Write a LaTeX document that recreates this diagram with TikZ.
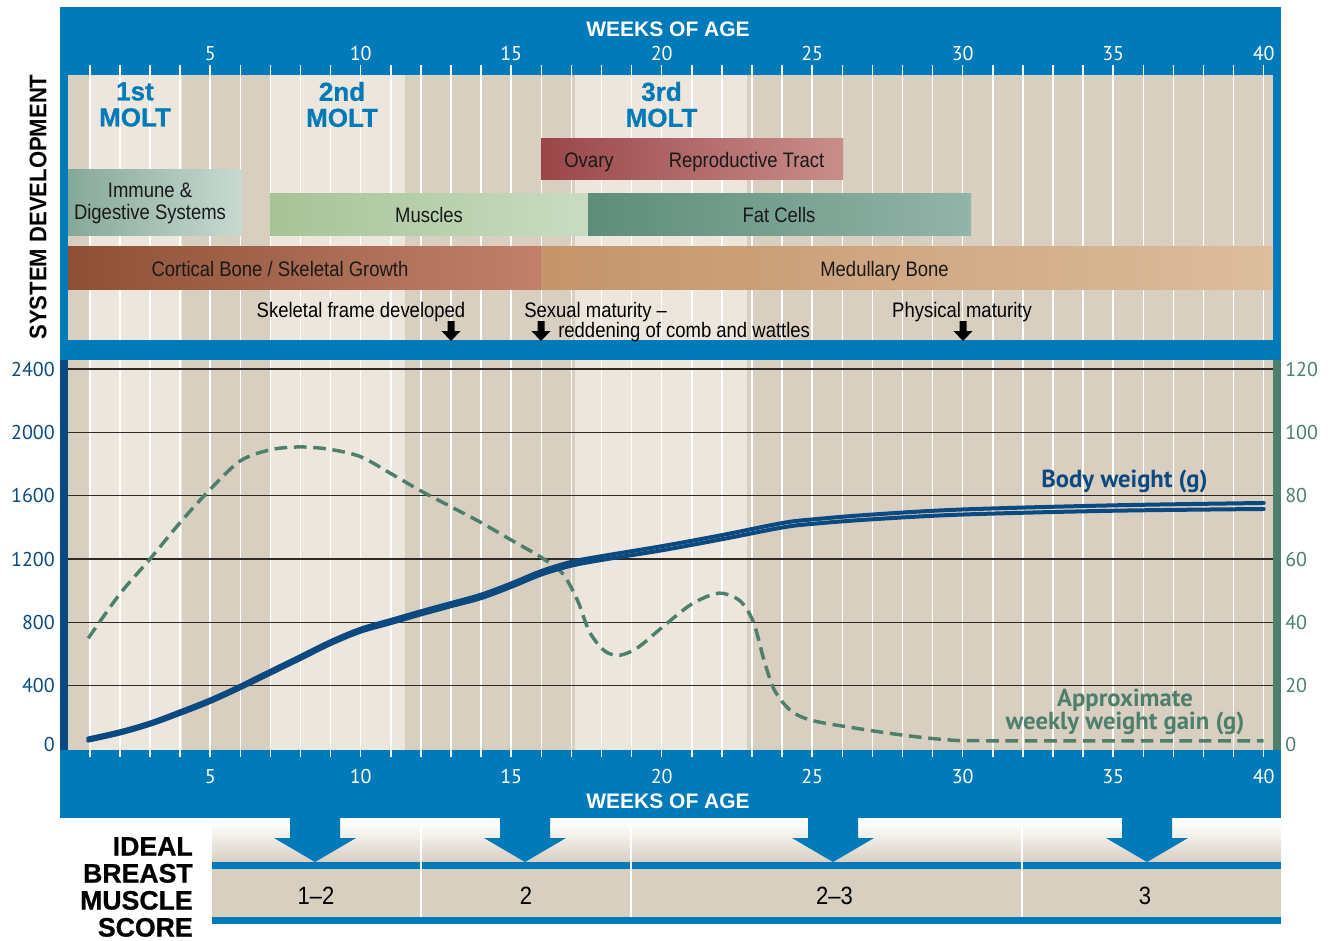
\documentclass[tikz,border=0pt]{standalone}
\usepackage{fontspec}
\setmainfont{PT Sans}
\newfontfamily\condfont[FakeStretch=0.88]{Liberation Sans}
\newfontfamily\headfont{Liberation Sans}
\newfontfamily\blackfont[FakeBold=0.8]{Liberation Sans}
\newfontfamily\sysfont[FakeStretch=0.92]{Liberation Sans}
\usetikzlibrary{arrows.meta}

\definecolor{bandblue}{HTML}{007AB8}
\definecolor{axisblue}{HTML}{0B4A80}
\definecolor{gaingreen}{HTML}{4E7F6D}
\definecolor{paleband}{HTML}{EDE6DC}
\definecolor{darkband}{HTML}{D9CFC1}
\definecolor{gridgray}{HTML}{2E2A26}
\definecolor{immuneL}{HTML}{86A898}
\definecolor{immuneR}{HTML}{C8DAD2}
\definecolor{muscleL}{HTML}{A6C396}
\definecolor{muscleR}{HTML}{C9DCC2}
\definecolor{fatL}{HTML}{5E8D7A}
\definecolor{fatR}{HTML}{93B4A8}
\definecolor{ovaryL}{HTML}{9A4649}
\definecolor{ovaryR}{HTML}{C98E8A}
\definecolor{boneL}{HTML}{8D5036}
\definecolor{boneR}{HTML}{C2806B}
\definecolor{medL}{HTML}{C4946A}
\definecolor{medR}{HTML}{DCBD9D}

\begin{document}
\begin{tikzpicture}[x=0.75pt,y=-0.75pt,
    bar text/.style={font=\condfont\fontsize{15.75}{16.5}\selectfont,text=black!90,inner sep=0pt,align=center},
    note text/.style={font=\condfont\fontsize{15.75}{16.5}\selectfont,text=black,inner sep=0pt},
    molt text/.style={font=\blackfont\bfseries\fontsize{19.5}{19.5}\selectfont,text=bandblue,inner sep=0pt,align=center},
    head text/.style={font=\headfont\bfseries\fontsize{15.75}{16}\selectfont,text=white,inner sep=0pt},
    week num/.style={font=\fontsize{15}{16}\selectfont,text=white,inner sep=0pt},
    axis num/.style={font=\fontsize{15}{16}\selectfont,inner sep=0pt},
    score text/.style={font=\condfont\fontsize{18.75}{19}\selectfont,inner sep=0pt},
    curve label/.style={font=\bfseries\fontsize{18.5}{15.75}\selectfont,inner sep=0pt,align=center},
    week line/.style={white,line width=1.1pt},
    grid line/.style={gridgray,line width=0.9pt},
    body line/.style={axisblue,line width=3pt,line cap=round,line join=round},
    gain line/.style={gaingreen,line width=2.6pt,dash pattern=on 9.5pt off 5pt}]

    \fill[white] (0,0) rectangle (1333,940);
    \useasboundingbox (0,0) rectangle (1333,940);

    \foreach \ya/\yb in {75/340,360/750}{
        \fill[darkband] (68,\ya) rectangle (1273,\yb);
        \fill[paleband] (90,\ya) rectangle (182,\yb);
        \fill[paleband] (271,\ya) rectangle (405,\yb);
        \fill[paleband] (575,\ya) rectangle (747,\yb);
    }

    \fill[bandblue] (60,7) rectangle (1281,75);
    \fill[bandblue] (60,75) rectangle (68,340);
    \fill[bandblue] (1273,75) rectangle (1281,340);
    \fill[bandblue] (60,340) rectangle (1281,360);
    \fill[bandblue] (60,750) rectangle (1281,818);
    \fill[axisblue] (60,360) rectangle (68,750);
    \fill[gaingreen] (1273,360) rectangle (1281,750);

    \foreach \w in {1,...,40}{
        \draw[week line] (59.7+30.1*\w,65) -- (59.7+30.1*\w,340);
        \draw[week line] (59.7+30.1*\w,360) -- (59.7+30.1*\w,757);
    }
    \foreach \g in {400,800,...,2400}
        \draw[grid line] (68,749-0.158333*\g) -- (1273,749-0.158333*\g);

    \foreach \w in {5,10,...,40}{
        \node[week num,anchor=base] (top\w) at (59.7+30.1*\w,60) {\w};
        \node[week num,anchor=base] (bot\w) at (59.7+30.1*\w,783) {\w};
    }
    \node[head text,anchor=base] (weeks top) at (668,36) {WEEKS OF AGE};
    \node[head text,anchor=base] (weeks bottom) at (668,808) {WEEKS OF AGE};

    \node[font=\sysfont\bfseries\fontsize{18}{18}\selectfont,rotate=90,inner sep=0pt] (sysdev) at (38,207) {SYSTEM DEVELOPMENT};

    \node[molt text] (molt1) at (135,104.5) {1st\\MOLT};
    \node[molt text] (molt2) at (342,104.5) {2nd\\MOLT};
    \node[molt text] (molt3) at (661.5,104.5) {3rd\\MOLT};

    \shade[left color=ovaryL,right color=ovaryR] (541,138) rectangle (843,179);
    \shade[left color=immuneL,right color=immuneR] (68,169) rectangle (242,235);
    \shade[left color=muscleL,right color=muscleR] (270,193) rectangle (588,235);
    \shade[left color=fatL,right color=fatR] (588,193) rectangle (971,235);
    \shade[left color=boneL,right color=boneR] (68,246) rectangle (541,289);
    \shade[left color=medL,right color=medR] (541,246) rectangle (1273,289);

    \node[bar text,anchor=base] (ovary) at (589,167) {Ovary};
    \node[bar text,anchor=base] (tract) at (746.5,167) {Reproductive Tract};
    \node[bar text] (immune) at (150,203) {Immune \&\\Digestive Systems};
    \node[bar text,anchor=base] (muscles) at (429,222) {Muscles};
    \node[bar text,anchor=base] (fat) at (779,222) {Fat Cells};
    \node[bar text,anchor=base] (cortical) at (280,276) {Cortical Bone / Skeletal Growth};
    \node[bar text,anchor=base] (medullary) at (884.5,276) {Medullary Bone};

    \node[note text,anchor=base] (skeletal) at (361,317) {Skeletal frame developed};
    \node[note text,anchor=base west] (sexual) at (524,317) {Sexual maturity –};
    \node[note text,anchor=base west] (redden) at (558,337) {reddening of comb and wattles};
    \node[note text,anchor=base] (physical) at (962,317) {Physical maturity};
    \foreach \c in {451,541,963}
        \fill[black] (\c-3.5,321) -- (\c+3.5,321) -- (\c+3.5,331) -- (\c+9.5,331) -- (\c,341) -- (\c-9.5,331) -- (\c-3.5,331) -- cycle;

    \foreach \g/\yy in {0/744,400/685.7,800/622.3,1200/559,1600/495.7,2000/432.3,2400/369}
        \node[axis num,text=axisblue,anchor=east] (bw\g) at (55,\yy) {\g};
    \foreach \v/\yy in {0/744,20/685.7,40/622.3,60/559,80/495.7,100/432.3,120/369}
        \node[axis num,text=gaingreen,anchor=west] (wg\v) at (1285,\yy) {\v};

    \begin{scope}[shift={(59.7,749)},x=22.575pt,y=2.375pt]
        \draw[gain line] plot[smooth,tension=0.5] coordinates {(0.95,35) (2,49) (3,60) (4,71.5) (5,82) (6,91) (7,94.5) (8,95.4) (9,94.6) (10,92.3) (11,87) (12,81.5) (13,76.5) (14,71.5) (15,66) (16,60.5) (16.7,55.5) (17.2,47) (17.6,37) (18.1,31) (18.6,29.6) (19.2,32) (20,38.3) (21,45.8) (21.9,49.2) (22.6,46.8) (23.05,40) (23.4,28) (23.75,18.5) (24.3,12) (25,9) (26.3,6.8) (28,4.4) (29.5,2.9) (31,2.6) (40,2.6)};
    \end{scope}
    \begin{scope}[shift={(59.7,749)},x=22.575pt,y=0.11875pt]
        \draw[body line] plot[smooth,tension=0.55] coordinates {(0.95,67) (2,112) (3,167) (4,238) (5,313) (6,400) (7,494) (8,587) (9,681) (10,760) (11,815) (12,870) (13,922) (14,975) (15,1046) (16,1124) (17,1182) (18,1218) (20,1281) (22,1351) (24,1427) (25,1450) (27,1481) (30,1513) (35,1539) (40,1554)};
        \draw[body line] plot[smooth,tension=0.55] coordinates {(0.95,53) (2,98) (3,153) (4,222) (5,297) (6,384) (7,476) (8,569) (9,663) (10,741) (11,795) (12,850) (13,902) (14,953) (15,1024) (16,1102) (17,1158) (18,1194) (20,1255) (22,1325) (24,1399) (25,1422) (27,1451) (30,1481) (35,1505) (40,1516)};
    \end{scope}

    \node[curve label,text=axisblue,anchor=base] (bwlabel) at (1124.5,487) {Body weight (g)};
    \node[curve label,text=gaingreen] (gainlabel) at (1125,712) {Approximate\\weekly weight gain (g)};

    \shade[top color=white,bottom color=darkband] (212,822) rectangle (1281,862);
    \fill[darkband] (212,869) rectangle (1281,917);
    \fill[bandblue] (212,862) rectangle (1281,869);
    \fill[bandblue] (212,917) rectangle (1281,924);
    \foreach \c in {421,631,1022}
        \draw[white,line width=1.1pt] (\c,826) -- (\c,917);
    \foreach \c in {315,525,833,1147}
        \fill[bandblue] (\c-25,817) -- (\c+25,817) -- (\c+25,838) -- (\c+41,838) -- (\c,862) -- (\c-41,838) -- (\c-25,838) -- cycle;

    \node[font=\blackfont\bfseries\fontsize{20}{20.25}\selectfont,align=right,inner sep=0pt,anchor=east] (ideal) at (193,887) {IDEAL\\BREAST\\MUSCLE\\SCORE};
    \node[score text,anchor=base] (score12) at (316,904) {1–2};
    \node[score text,anchor=base] (score2) at (526,904) {2};
    \node[score text,anchor=base] (score23) at (834.5,904) {2–3};
    \node[score text,anchor=base] (score3) at (1145,904) {3};
\end{tikzpicture}
\end{document}
